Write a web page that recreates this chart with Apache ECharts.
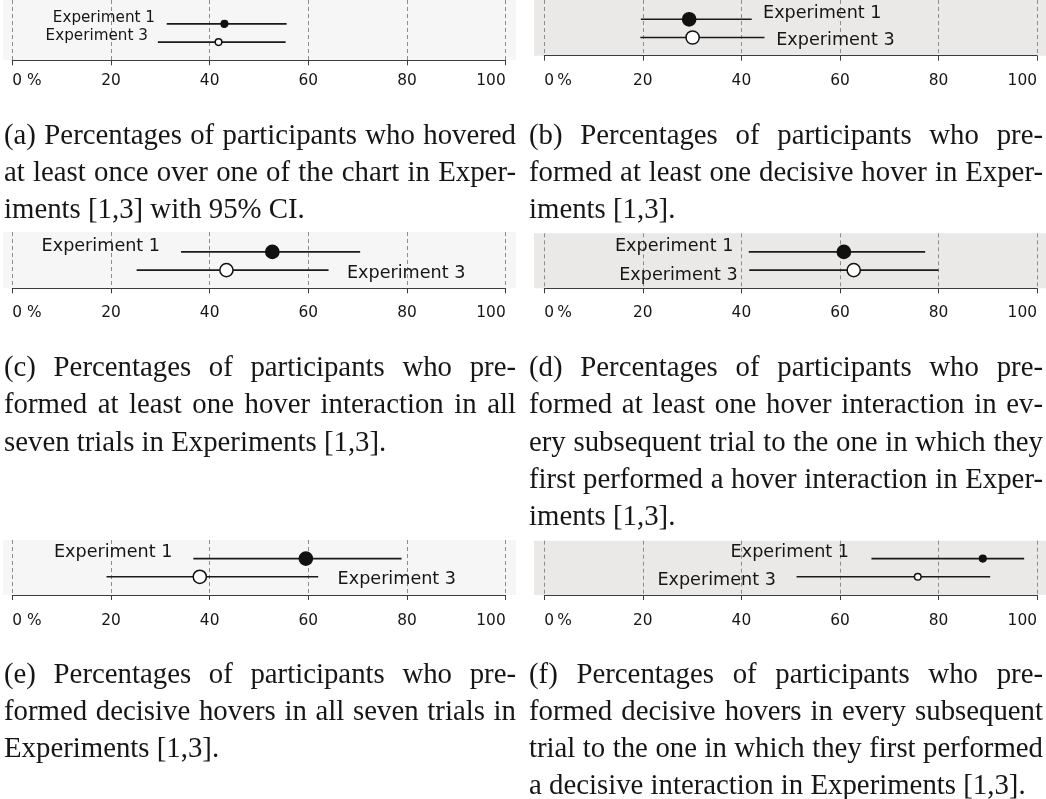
<!DOCTYPE html>
<html>
<head>
<meta charset="utf-8">
<script src="https://cdn.jsdelivr.net/npm/echarts@6/dist/echarts.min.js"></script>
<style>
html, body { margin: 0; padding: 0; background: #ffffff; }
#chart { width: 1046px; height: 799px; }
</style>
</head>
<body>
<div id="chart"></div>
<script>
// ---------------- DATA ----------------
const experiments = ['Experiment 1', 'Experiment 3'];
const panelIds = ['a', 'b', 'c', 'd', 'e', 'f'];

// Percentages with 95% CI, one entry per panel (a..f)
const exp1Mean = [43.0, 29.4, 52.7, 60.8, 59.5, 89.0];
const exp1Low  = [31.3, 19.6, 34.2, 41.5, 36.7, 66.4];
const exp1High = [55.6, 42.1, 70.5, 77.3, 78.9, 97.4];
const exp3Mean = [41.8, 30.1, 43.4, 62.8, 38.0, 75.8];
const exp3Low  = [29.5, 19.5, 25.2, 41.6, 19.1, 51.2];
const exp3High = [55.4, 44.7, 64.1, 80.0, 62.0, 90.5];

const tickValues = [0, 20, 40, 60, 80, 100];
const tickLabelsLeft  = ['0 %', '20', '40', '60', '80', '100'];
const tickLabelsRight = ['0\u2009%', '20', '40', '60', '80', '100'];

const captionA = ['(a) Percentages of participants who hovered',
                  'at least once over one of the chart in Exper-',
                  'iments [1,3] with 95% CI.'];
const captionB = ['(b) Percentages of participants who pre-',
                  'formed at least one decisive hover in Exper-',
                  'iments [1,3].'];
const captionC = ['(c) Percentages of participants who pre-',
                  'formed at least one hover interaction in all',
                  'seven trials in Experiments [1,3].'];
const captionD = ['(d) Percentages of participants who pre-',
                  'formed at least one hover interaction in ev-',
                  'ery subsequent trial to the one in which they',
                  'first performed a hover interaction in Exper-',
                  'iments [1,3].'];
const captionE = ['(e) Percentages of participants who pre-',
                  'formed decisive hovers in all seven trials in',
                  'Experiments [1,3].'];
const captionF = ['(f) Percentages of participants who pre-',
                  'formed decisive hovers in every subsequent',
                  'trial to the one in which they first performed',
                  'a decisive interaction in Experiments [1,3].'];
const captions = [captionA, captionB, captionC, captionD, captionE, captionF];

// ---------------- LAYOUT / STYLE ----------------
const ROW_GAP = 18.2;        // px between rows
const CAP_FONT = 28.8;
const CAP_LH = 37.3;
const COLS = [
  { left: 12.3, width: 493.4, bgX: 3, bgW: 513, bg: '#f6f6f6', capX0: 4, capX1: 516, ticks: tickLabelsLeft },
  { left: 544.3, width: 492.7, bgX: 534, bgW: 512, bg: '#ebe9e7', capX0: 529, capX1: 1043, ticks: tickLabelsRight }
];
const PANELS = [
  { col: 0, top: 0,     axisY: 60.3,  small: true,  font: 15.2, margin: 13.5, capY: 143.5,
    labels: [{ side: 'left', gap: 11.7, dy: -5.7 }, { side: 'left', gap: 10, dy: -6 }] },
  { col: 1, top: 0,     axisY: 55.7,  small: false, font: 17.6, margin: 17.5, capY: 143.5,
    labels: [{ side: 'right', gap: 11.3, dy: -6 }, { side: 'right', gap: 11.7, dy: 3.3 }] },
  { col: 0, top: 232,   axisY: 288.3, small: false, font: 17.6, margin: 17, capY: 376,
    labels: [{ side: 'left', gap: 21, dy: -5 }, { side: 'right', gap: 18.4, dy: 3.3 }] },
  { col: 1, top: 233.3, axisY: 288.3, small: false, font: 17.6, margin: 17, capY: 376,
    labels: [{ side: 'left', gap: 15.4, dy: -5 }, { side: 'left', gap: 11.6, dy: 5 }] },
  { col: 0, top: 540,   axisY: 595,   small: false, font: 17.6, margin: 18.5, capY: 682.5,
    labels: [{ side: 'left', gap: 21, dy: -6 }, { side: 'right', gap: 19.4, dy: 2.7 }] },
  { col: 1, top: 540.7, axisY: 595,   small: true,  font: 17.6, margin: 18.5, capY: 682.5,
    labels: [{ side: 'left', gap: 22.4, dy: -6.6 }, { side: 'left', gap: 20.7, dy: 3.4 }] }
];

// ---------------- BUILD ----------------
const chart = echarts.init(document.getElementById('chart'), null, { renderer: 'canvas' });

const grids = [], xAxes = [], yAxes = [], series = [], graphics = [];

PANELS.forEach((p, i) => {
  const c = COLS[p.col];
  const h = p.axisY - p.top;
  grids.push({ left: c.left, top: p.top, width: c.width, height: h, containLabel: false, outerBoundsMode: 'none', show: false });
  xAxes.push({
    type: 'value', gridIndex: i, min: 0, max: 100, interval: 20,
    axisLine: { show: true, onZero: false, lineStyle: { color: '#3c3c3c', width: 1 } },
    axisTick: { show: true, length: 5, inside: false, lineStyle: { color: '#3c3c3c', width: 1 } },
    splitLine: { show: true, showMinLine: true, showMaxLine: true, lineStyle: { type: [4, 3], color: '#8c8c8c', width: 1 } },
    axisLabel: {
      show: true, margin: p.margin, color: '#161616', fontFamily: 'DejaVu Sans', fontSize: 15.4,
      showMinLabel: true, showMaxLabel: true, alignMinLabel: 'left', alignMaxLabel: 'right',
      formatter: v => { const k = tickValues.indexOf(v); return k >= 0 ? c.ticks[k] : String(v); }
    }
  });
  yAxes.push({ type: 'value', gridIndex: i, min: 0, max: h / ROW_GAP, show: false,
               axisLine: { show: false }, splitLine: { show: false } });

  // background panel
  graphics.push({ type: 'rect', z: -10, silent: true,
    shape: { x: c.bgX, y: p.top, width: c.bgW, height: h }, style: { fill: c.bg } });

  // data rows: [mean, low, high, row, expIndex]; Experiment 1 above Experiment 3
  const data = [
    [exp1Mean[i], exp1Low[i], exp1High[i], 2, 0],
    [exp3Mean[i], exp3Low[i], exp3High[i], 1, 1]
  ];
  series.push({
    type: 'custom', name: 'panel ' + panelIds[i], xAxisIndex: i, yAxisIndex: i, clip: false,
    encode: { x: [0, 1, 2], y: 3 },
    data: data,
    renderItem: (params, api) => {
      const mean = api.value(0), lo = api.value(1), hi = api.value(2), row = api.value(3), ei = api.value(4);
      const a = api.coord([lo, row]), b = api.coord([hi, row]), m = api.coord([mean, row]);
      const lab = p.labels[ei];
      const r = p.small ? 3.3 : 6.6;
      const left = lab.side === 'left';
      return {
        type: 'group',
        children: [
          { type: 'line', shape: { x1: a[0], y1: a[1], x2: b[0], y2: b[1] },
            style: { stroke: '#1a1a1a', lineWidth: 1.6 } },
          { type: 'circle', shape: { cx: m[0], cy: m[1], r: r },
            style: { fill: ei === 0 ? '#111111' : '#ffffff', stroke: '#111111', lineWidth: 1.5 } },
          { type: 'text', x: left ? a[0] - lab.gap : b[0] + lab.gap, y: a[1] + lab.dy,
            style: { text: experiments[ei], font: p.font + 'px "DejaVu Sans"', fill: '#161616',
                     align: left ? 'right' : 'left', verticalAlign: 'middle' } }
        ]
      };
    }
  });
});

// ---------------- CAPTIONS (justified) ----------------
const mctx = document.createElement('canvas').getContext('2d');
function captionElements(lines, x0, x1, baseY) {
  const font = CAP_FONT + 'px "Liberation Serif"';
  mctx.font = font;
  mctx.textBaseline = 'middle';
  const mx = mctx.measureText('x');
  let off = (mx && typeof mx.alphabeticBaseline === 'number' && mx.alphabeticBaseline !== 0)
            ? Math.abs(mx.alphabeticBaseline) : CAP_FONT * 0.3;
  const natSpace = mctx.measureText(' ').width;
  const els = [];
  lines.forEach((line, i) => {
    const words = line.split(' ');
    const widths = words.map(w => mctx.measureText(w).width);
    const sum = widths.reduce((s, v) => s + v, 0);
    const last = i === lines.length - 1;
    const avail = x1 - x0;
    let space = natSpace, scale = 1;
    if (!last && words.length > 1) space = (avail - sum) / (words.length - 1);
    const minSpace = CAP_FONT * 0.16;
    if (space < minSpace) { space = minSpace; scale = (avail - space * (words.length - 1)) / sum; }
    if (last && sum + natSpace * (words.length - 1) > avail) {
      space = natSpace; scale = (avail - space * (words.length - 1)) / sum;
    }
    let x = x0;
    const y = baseY + i * CAP_LH - off;
    words.forEach((w, k) => {
      els.push({ type: 'text', x: x, y: y, scaleX: scale, silent: true,
        style: { text: w, font: font, fill: '#161616', align: 'left', verticalAlign: 'middle' } });
      x += widths[k] * scale + space;
    });
  });
  return els;
}
PANELS.forEach((p, i) => {
  const c = COLS[p.col];
  captionElements(captions[i], c.capX0, c.capX1, p.capY).forEach(e => graphics.push(e));
});

chart.setOption({
  backgroundColor: '#ffffff',
  animation: false,
  grid: grids,
  xAxis: xAxes,
  yAxis: yAxes,
  series: series,
  graphic: { elements: graphics }
});
</script>
</body>
</html>
